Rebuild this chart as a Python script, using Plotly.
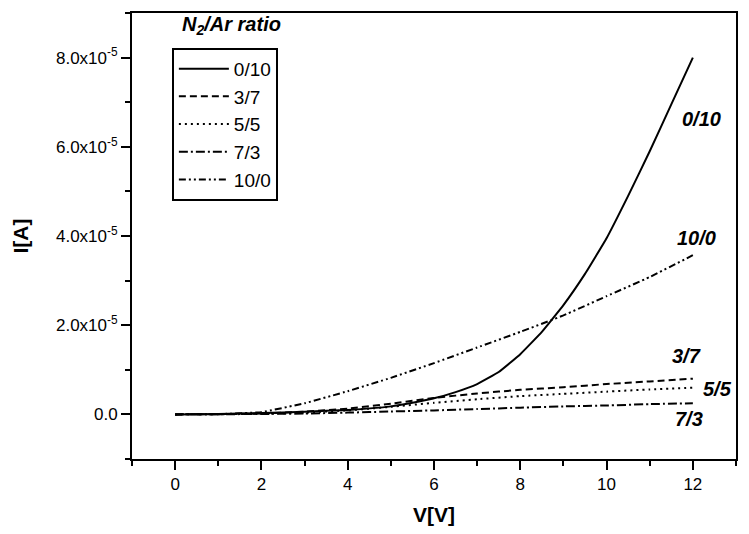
import plotly.graph_objects as go

V = [0, 1, 2, 3, 4, 5, 5.5, 6, 6.5, 7, 7.5, 8, 8.5, 9, 9.5, 10, 10.5, 11, 11.5, 12]
V_COARSE = [0, 1, 2, 3, 4, 5, 6, 7, 8, 9, 10, 11, 12]

I_0_10 = [0, 0.01, 0.03, 0.06, 0.1, 0.18, 0.26, 0.36, 0.5, 0.68, 0.95, 1.35, 1.85,
          2.45, 3.15, 3.95, 4.9, 5.9, 6.95, 8.0]
I_3_7 = [0, 0.005, 0.02, 0.06, 0.13, 0.24, 0.37, 0.47, 0.55, 0.61, 0.68, 0.74, 0.80]
I_5_5 = [0, 0.005, 0.015, 0.04, 0.09, 0.17, 0.26, 0.34, 0.41, 0.46, 0.51, 0.56, 0.60]
I_7_3 = [0, 0.003, 0.01, 0.02, 0.04, 0.065, 0.09, 0.12, 0.15, 0.18, 0.2, 0.23, 0.25]
I_10_0 = [0, 0.005, 0.05, 0.25, 0.52, 0.82, 1.15, 1.5, 1.85, 2.22, 2.65, 3.08, 3.57]

SCALE = 1e-5
Y_TICKS = [0, 2e-5, 4e-5, 6e-5, 8e-5]
Y_TICKTEXT = ["0.0", "2.0x10<sup>-5</sup>", "4.0x10<sup>-5</sup>",
              "6.0x10<sup>-5</sup>", "8.0x10<sup>-5</sup>"]
X_TICKS = [0, 2, 4, 6, 8, 10, 12]

# label, x, y (in 1e-5 A)
CURVE_LABELS = [("0/10", 12.19, 6.63), ("10/0", 12.08, 3.95), ("3/7", 11.85, 1.32),
                ("5/5", 12.56, 0.58), ("7/3", 11.92, -0.11)]

FONT = "Liberation Sans, Arial, sans-serif"

series = [
    ("0/10", V, I_0_10, "solid"),
    ("3/7", V_COARSE, I_3_7, "7px,4px"),
    ("5/5", V_COARSE, I_5_5, "2px,4px"),
    ("7/3", V_COARSE, I_7_3, "9px,3px,2px,3px"),
    ("10/0", V_COARSE, I_10_0, "7px,3px,2px,3px,2px,3px"),
]

fig = go.Figure()
for name, xs, ys, dash in series:
    fig.add_trace(go.Scatter(
        x=xs, y=[v * SCALE for v in ys], mode="lines", name=name,
        line=dict(color="black", width=2, dash=dash, shape="spline", smoothing=0.3),
    ))

for text, lx, ly in CURVE_LABELS:
    fig.add_annotation(x=lx, y=ly * SCALE, text=f"<b><i>{text}</i></b>",
                       showarrow=False, font=dict(size=20, color="black", family=FONT))

fig.add_annotation(xref="paper", yref="paper", x=0.165, y=0.971,
                   xanchor="center", yanchor="middle",
                   text="<b><i>N<sub>2</sub>/Ar ratio</i></b>", showarrow=False,
                   font=dict(size=20, color="black", family=FONT))

axis_common = dict(showline=True, linecolor="black", linewidth=2, mirror=True,
                   ticks="outside", ticklen=9, tickwidth=2, tickcolor="black",
                   showgrid=False, zeroline=False,
                   tickfont=dict(size=17, color="black", family=FONT))

fig.update_layout(
    width=749, height=534,
    margin=dict(l=132, r=11, t=12, b=75),
    plot_bgcolor="white", paper_bgcolor="white",
    font=dict(family=FONT, color="black"),
    xaxis=dict(range=[-1, 13], tickvals=X_TICKS,
               title=dict(text="<b>V[V]</b>", font=dict(size=21), standoff=14),
               minor=dict(ticks="outside", ticklen=5, tickwidth=2, tickcolor="black",
                          tickvals=[-1, 1, 3, 5, 7, 9, 11, 13]),
               **axis_common),
    yaxis=dict(range=[-1e-5, 9e-5], tickvals=Y_TICKS, ticktext=Y_TICKTEXT,
               title=dict(text="<b>I[A]</b>", font=dict(size=21), standoff=22),
               minor=dict(ticks="outside", ticklen=5, tickwidth=2, tickcolor="black",
                          tickvals=[-1e-5, 1e-5, 3e-5, 5e-5, 7e-5, 9e-5]),
               **axis_common),
    legend=dict(x=0.066, y=0.922, xanchor="left", yanchor="top",
                bordercolor="black", borderwidth=2, bgcolor="white",
                font=dict(size=19, color="black", family=FONT),
                itemwidth=50, tracegroupgap=0),
    showlegend=True,
)

fig.write_html("out.html", config={"displayModeBar": False},
               post_script="document.body.style.margin='0';")
